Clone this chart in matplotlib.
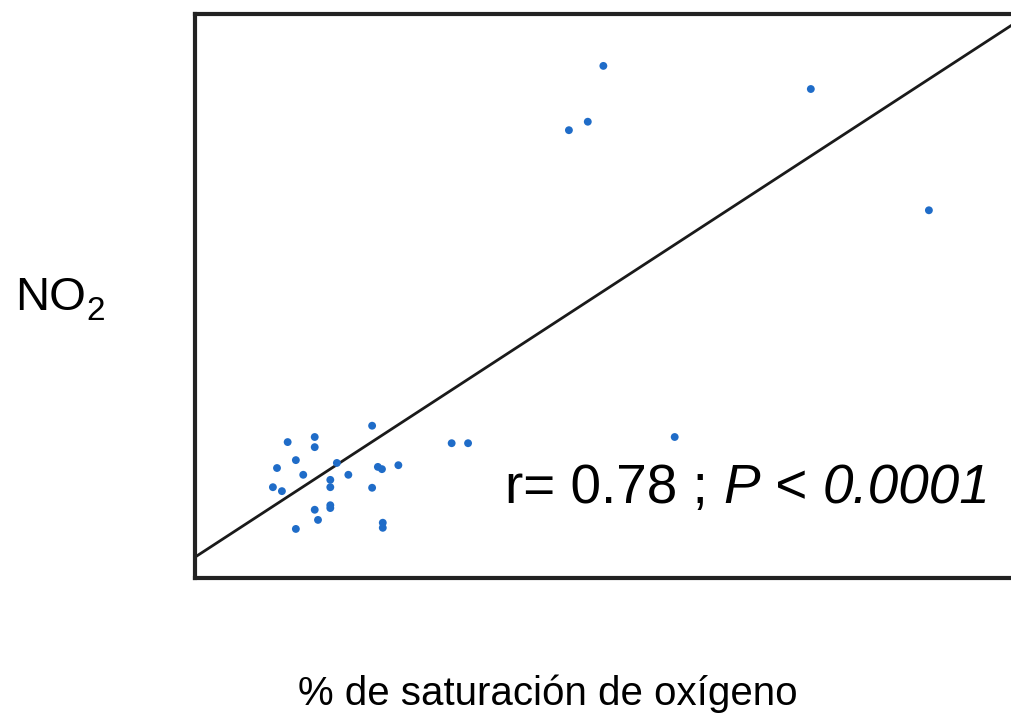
import matplotlib
matplotlib.use("Agg")
import matplotlib.pyplot as plt
import numpy as np

plt.rcParams['font.family'] = ['Liberation Sans', 'DejaVu Sans']

# Data (arbitrary units)
oxygen_sat = [21.6, 11.3, 14.6, 14.6, 12.3, 10.0, 13.2, 17.3, 18.7, 16.5, 16.5,
              22.3, 22.8, 24.8, 21.6, 9.5, 10.6, 14.6, 15.0, 16.5, 16.5, 12.3,
              22.9, 22.9, 31.3, 33.3, 58.5, 49.8, 47.9, 45.6, 75.1, 89.5]
no2 = [27.0, 24.1, 25.0, 23.2, 20.9, 19.5, 18.3, 20.4, 18.3, 17.4, 16.1,
       19.7, 19.3, 20.0, 16.0, 16.1, 15.4, 12.1, 10.3, 12.9, 12.4, 8.7,
       9.8, 8.9, 23.9, 23.9, 25.0, 90.8, 80.9, 79.4, 86.7, 65.2]
fit_intercept = 3.7
fit_slope = 0.947
annotation_parts = [("r= 0.78 ; ", "normal"), ("P", "italic"),
                    (" < ", "normal"), ("0.0001", "italic")]
ylabel_main, ylabel_sub = "NO", "2"
xlabel = "% de saturación de oxígeno"

W, H = 1011, 715
fig = plt.figure(figsize=(W/100, H/100), dpi=100)
ax = fig.add_axes([195/W, 1-578/H, 820/W, 564/H])
ax.set_xlim(0, 100)
ax.set_ylim(0, 100)

ax.scatter(oxygen_sat, no2, s=32, color='#1f6cc8', edgecolors='none', zorder=3)
xx = np.array([0, 100])
ax.plot(xx, fit_intercept + fit_slope * xx, color='#1a1a1a', lw=2.0, zorder=2)

ax.set_xticks([])
ax.set_yticks([])
for sp in ax.spines.values():
    sp.set_linewidth(3)
    sp.set_color('#222222')

renderer = fig.canvas.get_renderer()

# annotation built from pieces (regular / italic) on a common baseline
xpix = 505
for txt, style in annotation_parts:
    t = fig.text(xpix/W, 1-503/H, txt, fontsize=39.5, fontstyle=style,
                 ha='left', va='baseline')
    xpix += t.get_window_extent(renderer).width

t = fig.text(15/W, 1-310/H, ylabel_main, fontsize=34, ha='left', va='baseline')
wno = t.get_window_extent(renderer).width
fig.text((15 + wno)/W, 1-320/H, ylabel_sub, fontsize=24, ha='left', va='baseline')

fig.text(548/W, 1-705/H, xlabel, fontsize=29, ha='center', va='baseline')

fig.savefig("out.png", dpi=100)
